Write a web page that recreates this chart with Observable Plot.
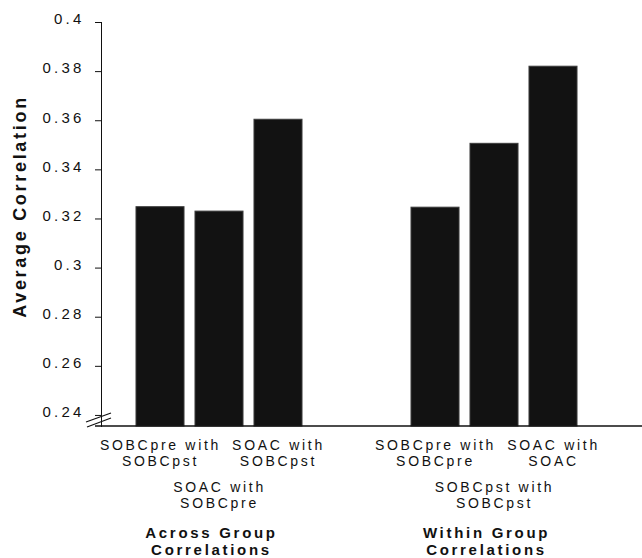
<!DOCTYPE html>
<html>
<head>
<meta charset="utf-8">
<script src="https://cdn.jsdelivr.net/npm/d3@7"></script>
<script src="https://cdn.jsdelivr.net/npm/@observablehq/plot@0.6"></script>
<style>
  html, body { margin: 0; padding: 0; background: #fff; }
  #chart svg { display: block; }
</style>
</head>
<body>
<div id="chart"></div>
<script>
// ---- data ----
const groups = ["Across Group Correlations", "Within Group Correlations"];
const acrossLabels = ["SOBCpre with SOBCpst", "SOAC with SOBCpre", "SOAC with SOBCpst"];
const acrossValues = [0.3248, 0.3230, 0.3604];
const withinLabels = ["SOBCpre with SOBCpre", "SOBCpst with SOBCpst", "SOAC with SOAC"];
const withinValues = [0.3246, 0.3506, 0.3820];
const yTicks = [0.24, 0.26, 0.28, 0.30, 0.32, 0.34, 0.36, 0.38, 0.40];
const yMin = 0.2355, yMax = 0.4;
const yLabel = "Average Correlation";

const rows = [
  ...acrossLabels.map((label, i) => ({group: groups[0], rank: i, label, value: acrossValues[i]})),
  ...withinLabels.map((label, i) => ({group: groups[1], rank: i, label, value: withinValues[i]}))
];

const W = 642, H = 558;
const mL = 101, mR = 26, mT = 22, mB = 132;
const font = "'Liberation Sans', Arial, Helvetica, sans-serif";

const plot = Plot.plot({
  width: W,
  height: H,
  marginLeft: mL,
  marginRight: mR,
  marginTop: mT,
  marginBottom: mB,
  style: {fontFamily: font, fontSize: "14px", color: "#111", background: "#fff"},
  fx: {domain: groups, paddingInner: 0.1273, paddingOuter: 0, align: 0, round: false, axis: null, label: null},
  x: {type: "band", domain: [0, 1, 2], paddingInner: 0.186, paddingOuter: 0.627, align: 0.473, round: false, axis: null, label: null},
  y: {domain: [yMin, yMax], ticks: yTicks, tickFormat: d => String(+d.toFixed(2)),
      tickSize: 6, tickPadding: 11, label: null, line: true},
  marks: [
    Plot.barY(rows, {fx: "group", x: "rank", y1: yMin, y2: "value",
      fill: "#121212", stroke: "#3c3c3c", strokeWidth: 1}),
    Plot.text(rows.filter(d => d.rank !== 1), {fx: "group", x: "rank",
      text: d => d.label.replace(" with ", " with\n"),
      frameAnchor: "bottom", textAnchor: "middle", lineAnchor: "top", dy: 12, lineHeight: 1.15,
      fontSize: 14, fill: "#111"}),
    Plot.text(rows.filter(d => d.rank === 1), {fx: "group", x: "rank",
      text: d => d.label.replace(" with ", " with\n"),
      frameAnchor: "bottom", textAnchor: "middle", lineAnchor: "top", dy: 54, lineHeight: 1.15,
      fontSize: 14, fill: "#111"}),
    Plot.text(groups, {fx: d => d,
      text: d => d.replace(/ (Correlations)$/, "\n$1"),
      frameAnchor: "bottom", textAnchor: "middle", lineAnchor: "top", dy: 100, dx: -10, lineHeight: 1.1,
      fontSize: 15, fontWeight: "bold", fill: "#111"}),
    Plot.text([yLabel], {fx: () => groups[0], text: d => d,
      frameAnchor: "left", textAnchor: "middle", lineAnchor: "middle", rotate: -90, dx: -81, dy: -18,
      fontSize: 18, fontWeight: "bold", fill: "#111"})
  ]
});

document.getElementById("chart").appendChild(plot);

const svg = d3.select(plot);
// letter spacing like the original typesetting
svg.selectAll('[aria-label^="y-axis"] text')
  .style("letter-spacing", "3.2px")
  .style("font-size", "15px")
  .each(function() {
    const t = this.getAttribute("transform") || "";
    this.setAttribute("transform", ("translate(0,-3) " + t).trim());
  });
svg.selectAll('g[aria-label="text"]').each(function() {
  const bold = (this.getAttribute("font-weight") || "") === "bold";
  const big = (this.getAttribute("font-size") || "") === "18";
  d3.select(this).style("letter-spacing", big ? "3.4px" : bold ? "4px" : "2.7px");
});

// x-axis baseline and axis break marks
const yB = H - mB;
const deco = svg.append("g").attr("stroke", "#111").attr("fill", "none");
deco.append("line").attr("x1", mL - 6).attr("x2", W).attr("y1", yB).attr("y2", yB).attr("stroke-width", 1.6);
deco.append("line").attr("x1", mL - 15).attr("y1", yB - 4).attr("x2", mL + 10).attr("y2", yB - 13).attr("stroke-width", 1.2);
deco.append("line").attr("x1", mL - 14).attr("y1", yB + 1).attr("x2", mL + 10).attr("y2", yB - 8).attr("stroke-width", 1.2);
</script>
</body>
</html>
